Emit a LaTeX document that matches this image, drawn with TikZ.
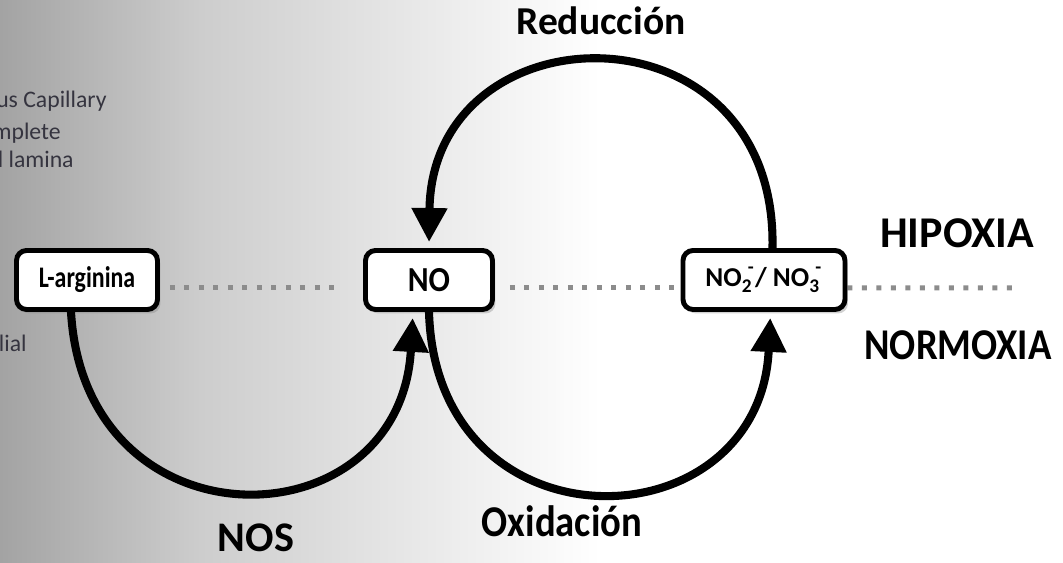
\documentclass[tikz,border=0pt]{standalone}
\usepackage{fontspec}
\setmainfont{Carlito}
\usepackage{graphicx}
\usetikzlibrary{arrows.meta,shadows,backgrounds}
\definecolor{bgdark}{HTML}{A3A3A3}
\definecolor{bgone}{HTML}{CDCDCD}
\definecolor{bgtwo}{HTML}{E6E6E6}
\definecolor{dotgray}{HTML}{8C8C8C}
\definecolor{sidetext}{HTML}{35343F}
\pgfdeclarehorizontalshading{slidefade}{100bp}{color(0bp)=(bgdark); color(25bp)=(bgdark);
  color(41.7bp)=(bgone); color(58.3bp)=(bgtwo); color(75bp)=(white); color(100bp)=(white)}
% charge over a subscript
\newcommand{\ionsub}[1]{\rlap{\raisebox{-0.45ex}{\fontsize{11}{11}\selectfont #1}}\kern0.22em\raisebox{0.95ex}{\fontsize{11}{11}\selectfont -}\kern0.05em}

\begin{document}
\begin{tikzpicture}[
  x=0.02cm, y=-0.02cm,
  species/.style={draw, line width=2.8pt, rounded corners=0.2cm, fill=white,
    minimum height=1.18cm, inner sep=0pt, font=\bfseries,
    drop shadow={shadow xshift=0.06cm, shadow yshift=-0.08cm, opacity=0.35}},
  cycle/.style={line width=4.6pt, -{Triangle[length=0.68cm,width=0.68cm]}, shorten >=0.12cm},
  dotline/.style={dotgray, line width=0.1cm, dash pattern=on 0.1cm off 0.19cm},
  phase/.style={font=\bfseries\fontsize{25}{28}\selectfont, anchor=base},
  sidenote/.style={sidetext, font=\fontsize{13.5}{15}\selectfont, anchor=base east, inner sep=0pt}
]
\useasboundingbox (0,0) rectangle (1063,563);
\clip (0,0) rectangle (1063,563);

% the three species
\node (larg) [species, minimum width=2.82cm] at (87,280)
  {\fontsize{17}{18}\selectfont\scalebox{0.8}[1]{L-arginina}};
\node (no) [species, minimum width=2.54cm] at (429,280)
  {\fontsize{20}{22}\selectfont\scalebox{0.9}[1]{NO}};
\node (nox) [species, minimum width=3.24cm] at (764,280)
  {\fontsize{15.5}{17}\selectfont NO\ionsub{2}/ NO\ionsub{3}};
\coordinate (lineend) at (1017,288);

\begin{scope}[on background layer]
  \fill[white] (0,0) rectangle (1063,563);
  \shade[shading=slidefade] (0,0) rectangle (600,563);
  \draw[dotline, shorten <=0.2cm, shorten >=0.46cm] ([yshift=-0.16cm]larg.east) -- ([yshift=-0.16cm]no.west);
  \draw[dotline, shorten <=0.3cm] ([yshift=-0.16cm]no.east) -- ([yshift=-0.16cm]nox.west);
  \draw[dotline] ([yshift=-0.16cm]nox.east) -- (lineend);
\end{scope}

% text left over from the slide behind
\node[sidenote] (s1) at (107,108) {us Capillary};
\node[sidenote] (s2) at (61,140) {mplete};
\node[sidenote] (s3) at (74,168) {l lamina};
\node[sidenote] (s4) at (27,352) {lial};

% cycle arrows
\draw[cycle] ([xshift=-0.32cm]larg.south) .. controls +(14,240) and +(-13,234) .. ([xshift=-0.32cm]no.south);
\draw[cycle] (no.south) .. controls +(7,243) and +(-11,235) .. ([xshift=0.13cm]nox.south);
\draw[cycle] ([xshift=0.17cm]nox.north) .. controls +(5,-250) and +(3,-243) .. (no.north);

% labels
\node[phase, font=\bfseries\fontsize{22.5}{26}\selectfont] (red) at (601,35) {Reducción};
\node[phase] (hip) at (957,248) {HIPOXIA};
\node[phase] (norm) at (958,360) {\scalebox{0.88}[1]{NORMOXIA}};
\node[phase, font=\bfseries\fontsize{24}{27}\selectfont] (nos) at (256,552) {NOS};
\node[phase] (ox) at (562,537) {\scalebox{0.88}[1]{Oxidación}};
\end{tikzpicture}
\end{document}
